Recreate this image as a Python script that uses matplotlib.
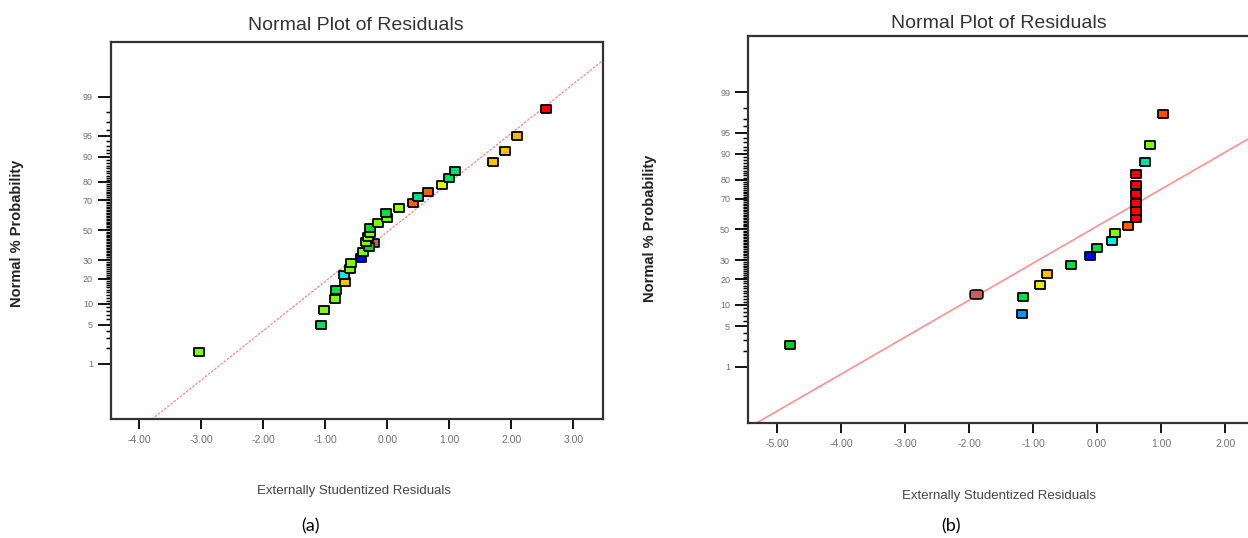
from statistics import NormalDist
import numpy as np
from matplotlib import pyplot as plt
from matplotlib.ticker import NullFormatter, FixedFormatter

plt.rcParams['font.family'] = ['Liberation Sans', 'DejaVu Sans']

# (a) externally studentized residuals and their normal % probability
res_a = [-3.03, -1.065, -1.016, -0.85, -0.834, -0.689, -0.694, -0.594, -0.585, -0.42,
         -0.398, -0.302, -0.339, -0.318, -0.285, -0.285, -0.156, -0.005, -0.016, 0.182,
         0.415, 0.50, 0.65, 0.882, 0.99, 1.093, 1.70, 1.905, 2.10, 2.56]
prob_a = [1.7, 5.0, 8.3, 11.7, 15.0, 18.3, 21.7, 25.0, 28.3, 31.7,
          35.0, 38.3, 41.7, 45.0, 48.3, 51.7, 55.0, 58.3, 61.7, 65.0,
          68.3, 71.7, 75.0, 78.3, 81.7, 85.0, 88.3, 91.7, 95.0, 98.3]
colors_a = ['#80FF00', '#00E060', '#80FF00', '#80FF00', '#00E040', '#FFC000', '#00E8E8',
            '#80FF00', '#80FF00', '#0000FF', '#80FF00', '#00D830', '#80FF00', '#80FF00',
            '#80FF00', '#00E020', '#80FF00', '#80FF00', '#00E040', '#A0FF00', '#FF6000',
            '#00E080', '#FF6000', '#E0FF00', '#00E060', '#00E070', '#FFC000', '#FFC000',
            '#FFB800', '#FF0000']
extra_a = (-0.221, 41.4)
line_a = (0.86, -0.03)   # slope, intercept in probit units

# (b)
res_b = [-4.80, -1.176, -1.15, -0.89, -0.778, -0.40, -0.116, -0.008, 0.234, 0.273,
         0.476, 0.605, 0.605, 0.605, 0.605, 0.605, 0.605, 0.744, 0.826, 1.034]
prob_b = [2.5, 7.5, 12.5, 17.5, 22.5, 27.5, 32.5, 37.5, 42.5, 47.5,
          52.5, 57.5, 62.5, 67.5, 72.5, 77.5, 82.5, 87.5, 92.5, 97.5]
colors_b = ['#00D020', '#0098FF', '#00E040', '#E0F000', '#FFC000', '#00E040', '#0000FF',
            '#00E040', '#00F0E0', '#80FF00', '#FF6000', '#FF0000', '#FF0000', '#FF0000',
            '#FF0000', '#FF0000', '#FF0000', '#00E0A0', '#80FF00', '#FF5000']
extra_b = (-1.885, 13.7)
line_b = (0.6275, 0.054)

extra_color = '#C06060'
major_p = [1, 5, 10, 20, 30, 50, 70, 80, 90, 95, 99]
minor_p = [p for p in range(1, 100) if p not in major_p]

nd = NormalDist()


def prob_fwd(p):
    p = np.clip(np.asarray(p, dtype=float) / 100.0, 1e-9, 1 - 1e-9)
    return np.vectorize(nd.inv_cdf, otypes=[float])(p)


def prob_inv(z):
    return np.vectorize(nd.cdf, otypes=[float])(np.asarray(z, dtype=float)) * 100.0


def setup(ax, xlim, xticks):
    ax.set_yscale('function', functions=(prob_fwd, prob_inv))
    ax.set_ylim(0.05, 99.95)
    ax.set_xlim(*xlim)
    ax.set_yticks(major_p)
    ax.yaxis.set_major_formatter(FixedFormatter([str(p) for p in major_p]))
    ax.set_yticks(minor_p, minor=True)
    ax.yaxis.set_minor_formatter(NullFormatter())
    ax.set_xticks(xticks)
    ax.set_xticklabels(['%.2f' % t for t in xticks])
    ax.tick_params(axis='y', which='major', length=9.5, width=1.3, pad=3.5,
                   labelsize=6.5, labelcolor='#707070')
    ax.tick_params(axis='y', which='minor', length=3.8, width=1.05)
    ax.tick_params(axis='x', length=7, width=1.3, pad=4.5, labelsize=7.5,
                   labelcolor='#707070')
    for s in ax.spines.values():
        s.set_color('#333333')
        s.set_linewidth(1.6)


rect_a = [(-1, -0.68), (1, -0.68), (1, 0.68), (-1, 0.68), (-1, -0.68)]
rect_b = [(-1, -0.85), (1, -0.85), (1, 0.85), (-1, 0.85), (-1, -0.85)]
t = np.linspace(0, 2 * np.pi, 40)
rounded = list(zip(np.sign(np.cos(t)) * np.abs(np.cos(t)) ** 0.4,
                   0.7 * np.sign(np.sin(t)) * np.abs(np.sin(t)) ** 0.4))

fig = plt.figure(figsize=(12.48, 5.38), dpi=100)

# panel (a)
ax1 = fig.add_axes([0.08894, 0.22119, 0.39423, 0.70167])
xa = (-4.456, 3.479)
setup(ax1, xa, list(range(-4, 4)))
lx = np.array(xa)
ax1.plot(lx, prob_inv(line_a[1] + line_a[0] * lx), color='#FF8080', lw=0.9,
         ls=(0, (2.0, 1.2)), zorder=1)
ax1.scatter([extra_a[0]], [extra_a[1]], marker=rect_a, s=60, c=extra_color,
            edgecolors='black', linewidths=1.2, zorder=2)
for x, p, c in zip(res_a, prob_a, colors_a):
    ax1.scatter(x, p, marker=rect_a, s=62, c=c, edgecolors='black', linewidths=1.3, zorder=3)

# panel (b), cut off at the right edge
ax2 = fig.add_axes([0.59952, 0.21301, 0.40777, 0.72100])
xb = (-5.448, 2.5)
setup(ax2, xb, list(range(-5, 3)))
lx = np.array(xb)
ax2.plot(lx, prob_inv(line_b[1] + line_b[0] * lx), color='#FF9090', lw=1.2, zorder=1)
ax2.scatter([extra_b[0]], [extra_b[1]], marker=rounded, s=85, c=extra_color,
            edgecolors='black', linewidths=1.2, zorder=2)
for x, p, c in zip(res_b, prob_b, colors_b):
    ax2.scatter(x, p, marker=rect_b, s=52, c=c, edgecolors='black', linewidths=1.3, zorder=3)

W, H = 1248.0, 538.0
for cx, ty, lx_, ly, yx, yy, tag, tx in [(356, 26, 354, 491, 16.7, 233, '(a)', 310),
                                         (999, 23, 998.5, 496, 649.7, 228, '(b)', 951)]:
    fig.text(cx / W, 1 - ty / H, 'Normal Plot of Residuals', ha='center', va='center',
             fontsize=14, color='#333333')
    fig.text(lx_ / W, 1 - ly / H, 'Externally Studentized Residuals', ha='center',
             va='center', fontsize=9.5, color='#444444')
    fig.text(yx / W, 1 - yy / H, 'Normal % Probability', ha='center', va='center',
             rotation=90, fontsize=10.5, fontweight='bold', color='#222222')
    fig.text(tx / W, 1 - 526 / H, tag, ha='center', va='center', fontsize=13,
             family=['Lato', 'DejaVu Sans'])

fig.savefig('out.png', dpi=100)
